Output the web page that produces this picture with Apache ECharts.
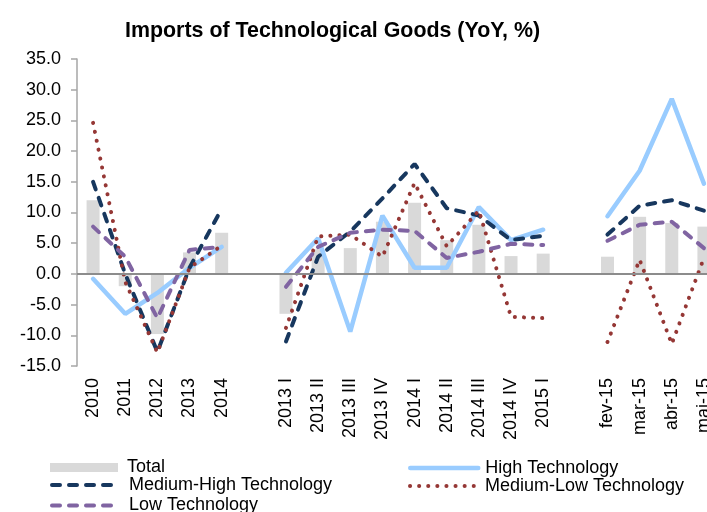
<!DOCTYPE html>
<html>
<head>
<meta charset="utf-8">
<script src="https://cdn.jsdelivr.net/npm/echarts@6/dist/echarts.min.js"></script>
<style>
  html, body { margin: 0; padding: 0; background: #fff; }
  #chart { width: 707px; height: 512px; }
</style>
</head>
<body>
<div id="chart"></div>
<script>
// categories: annual, quarterly, monthly blocks separated by an empty slot
const categories = ['2010', '2011', '2012', '2013', '2014', ' ',
  '2013 I', '2013 II', '2013 III', '2013 IV', '2014 I', '2014 II', '2014 III', '2014 IV', '2015 I', '  ',
  'fev-15', 'mar-15', 'abr-15', 'mai-15'];

const total      = [12.0, -2.0, -9.8, 3.5, 6.7, null, -6.5, 4.0, 4.2, 8.5, 11.6, 5.5, 8.0, 2.9, 3.3, null, 2.8, 9.3, 8.3, 7.7];
const highTech   = [-0.8, -6.5, -3.1, 1.0, 4.4, null, 0.2, 5.8, -9.4, 9.5, 1.0, 1.0, 10.9, 5.5, 7.2, null, 9.4, 16.8, 28.5, 14.7];
const medHigh    = [15.0, 0.0, -12.7, 1.0, 10.6, null, -11.0, 2.8, 6.9, 12.3, 17.9, 10.7, 9.5, 5.5, 6.2, null, 6.4, 11.1, 12.0, 10.3];
const medLow     = [24.6, -1.3, -12.8, 1.0, 4.6, null, -8.8, 6.1, 6.4, 2.8, 14.8, 4.5, 10.3, -7.0, -7.2, null, -11.1, 2.3, -11.4, 2.6];
const lowTech    = [7.7, 2.8, -7.2, 3.9, 4.4, null, -2.1, 4.4, 6.7, 7.2, 7.0, 2.6, 3.6, 4.9, 4.7, null, 5.4, 8.0, 8.5, 4.2];

const FONT = 'Arial, "Liberation Sans", sans-serif';

function lineSeries(name, data, color, width, type) {
  return {
    name, type: 'line', data,
    symbol: 'none',
    connectNulls: false,
    lineStyle: { color, width, type, cap: 'round' },
    itemStyle: { color },
  };
}

// one legend per entry so each sits where the original put it
function legendItem(name, left, top, lineWidth, textGap) {
  const lg = {
    left, top, padding: 0, orient: 'vertical',
    itemWidth: 68, itemHeight: 9, selectedMode: false,
    textStyle: { fontFamily: FONT, fontSize: 18, color: '#000', padding: [0, 0, 0, textGap] },
    data: [lineWidth ? name : { name, icon: 'rect' }],
  };
  if (lineWidth) {
    lg.itemStyle = { opacity: 0 };
    lg.lineStyle = { width: lineWidth };
  }
  return lg;
}

const chart = echarts.init(document.getElementById('chart'), null, { renderer: 'canvas' });
chart.setOption({
  animation: false,
  backgroundColor: '#fff',
  title: {
    text: 'Imports of Technological Goods (YoY, %)',
    left: 120, top: 16,
    textStyle: { fontFamily: FONT, fontSize: 21.4, fontWeight: 'bold', color: '#000' },
  },
  grid: { left: 77, width: 643, top: 59, bottom: 146, containLabel: false, outerBoundsMode: 'none' },
  legend: [
    legendItem('Total', 50, 458.5, 0, 4),
    legendItem('Medium-High Technology', 50, 476, 4, 4),
    legendItem('Low Technology', 50, 496.5, 4, 4),
    legendItem('High Technology', 408, 459, 4.5, 2),
    legendItem('Medium-Low Technology', 408, 477, 4, 2),
  ],
  xAxis: {
    type: 'category',
    data: categories,
    axisLine: { show: false },
    axisTick: { show: false },
    axisLabel: { rotate: 90, interval: 0, margin: 12, fontFamily: FONT, fontSize: 18, color: '#000' },
  },
  yAxis: {
    type: 'value',
    min: -15, max: 35, interval: 5,
    axisLine: { show: true, lineStyle: { color: '#a6a6a6', width: 1.5 } },
    axisTick: { show: true, length: 6, lineStyle: { color: '#a6a6a6', width: 1.5 } },
    splitLine: { show: false },
    axisLabel: { margin: 16, fontFamily: FONT, fontSize: 18, color: '#000', formatter: v => v.toFixed(1) },
  },
  series: [
    {
      name: 'Total', type: 'bar', data: total, barWidth: 13,
      itemStyle: { color: '#d9d9d9' },
      markLine: {
        silent: true, symbol: ['none', 'none'],
        label: { show: false },
        lineStyle: { color: '#8c8c8c', width: 2, type: 'solid' },
        data: [{ yAxis: 0 }],
      },
    },
    lineSeries('High Technology', highTech, '#99ccff', 4.5, 'solid'),
    lineSeries('Medium-High Technology', medHigh, '#17375e', 4, [8, 9]),
    lineSeries('Medium-Low Technology', medLow, '#953735', 4, [0.1, 9]),
    lineSeries('Low Technology', lowTech, '#8064a2', 4, [8, 9]),
  ],
});
</script>
</body>
</html>
